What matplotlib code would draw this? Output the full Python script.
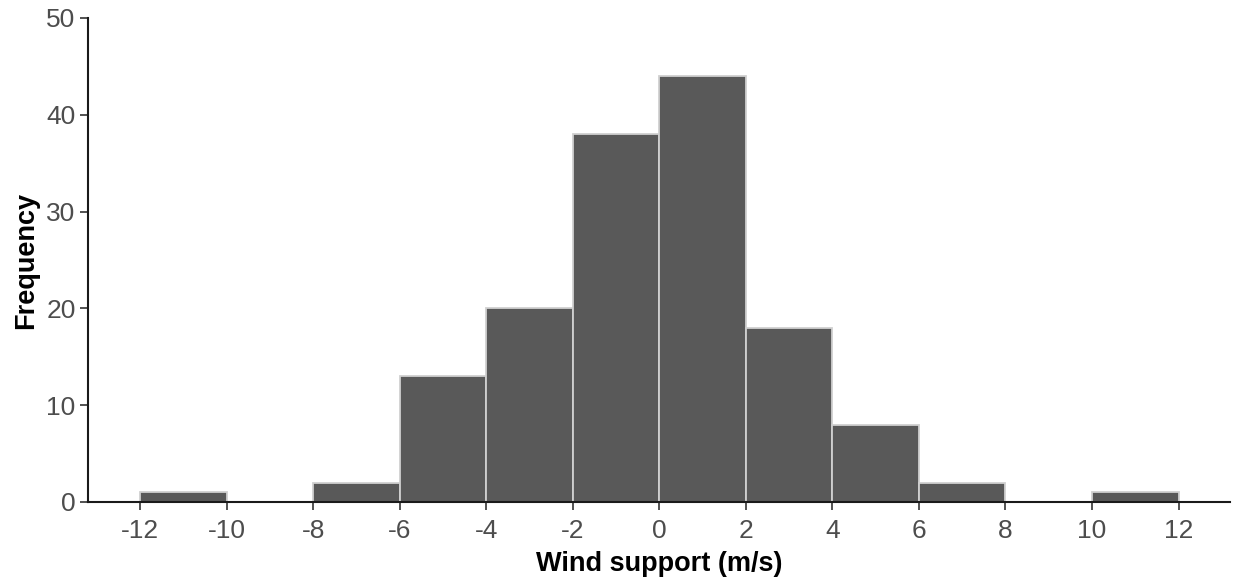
import numpy as np
import matplotlib
matplotlib.use('Agg')
import matplotlib.pyplot as plt

plt.rcParams['font.family'] = ['Liberation Sans', 'DejaVu Sans']
plt.rcParams['axes.unicode_minus'] = False

# histogram bins (m/s) and counts
binEdges = [-12, -10, -8, -6, -4, -2, 0, 2, 4, 6, 8, 10, 12]
counts = [1, 0, 2, 13, 20, 38, 44, 18, 8, 2, 0, 1]
xTicks = [-12, -10, -8, -6, -4, -2, 0, 2, 4, 6, 8, 10, 12]
yTicks = [0, 10, 20, 30, 40, 50]

fig = plt.figure(figsize=(12.35, 5.79), dpi=100)
ax = fig.add_axes([0.0713, 0.133, 0.925, 0.836])

lefts = np.array(binEdges[:-1])
widths = np.diff(binEdges)
ax.bar(lefts, counts, width=widths, align='edge', color='#595959',
       edgecolor='#d0d0d0', linewidth=1.3)

ax.set_xlim(-13.2, 13.2)
ax.set_ylim(0, 50)
ax.set_xticks(xTicks)
ax.set_yticks(yTicks)
ax.tick_params(labelsize=19, labelcolor='#4d4d4d', length=6, width=1.2,
               color='#333333', pad=3)
ax.tick_params(axis='x', pad=6)

for side in ['top', 'right']:
    ax.spines[side].set_visible(False)
for side in ['left', 'bottom']:
    ax.spines[side].set_linewidth(1.5)
    ax.spines[side].set_color('#1a1a1a')

ax.set_xlabel('Wind support (m/s)', fontsize=19.5, fontweight='bold', labelpad=6)
ax.set_ylabel('Frequency', fontsize=19.5, fontweight='bold', labelpad=5)

fig.savefig('out.png', dpi=100)
